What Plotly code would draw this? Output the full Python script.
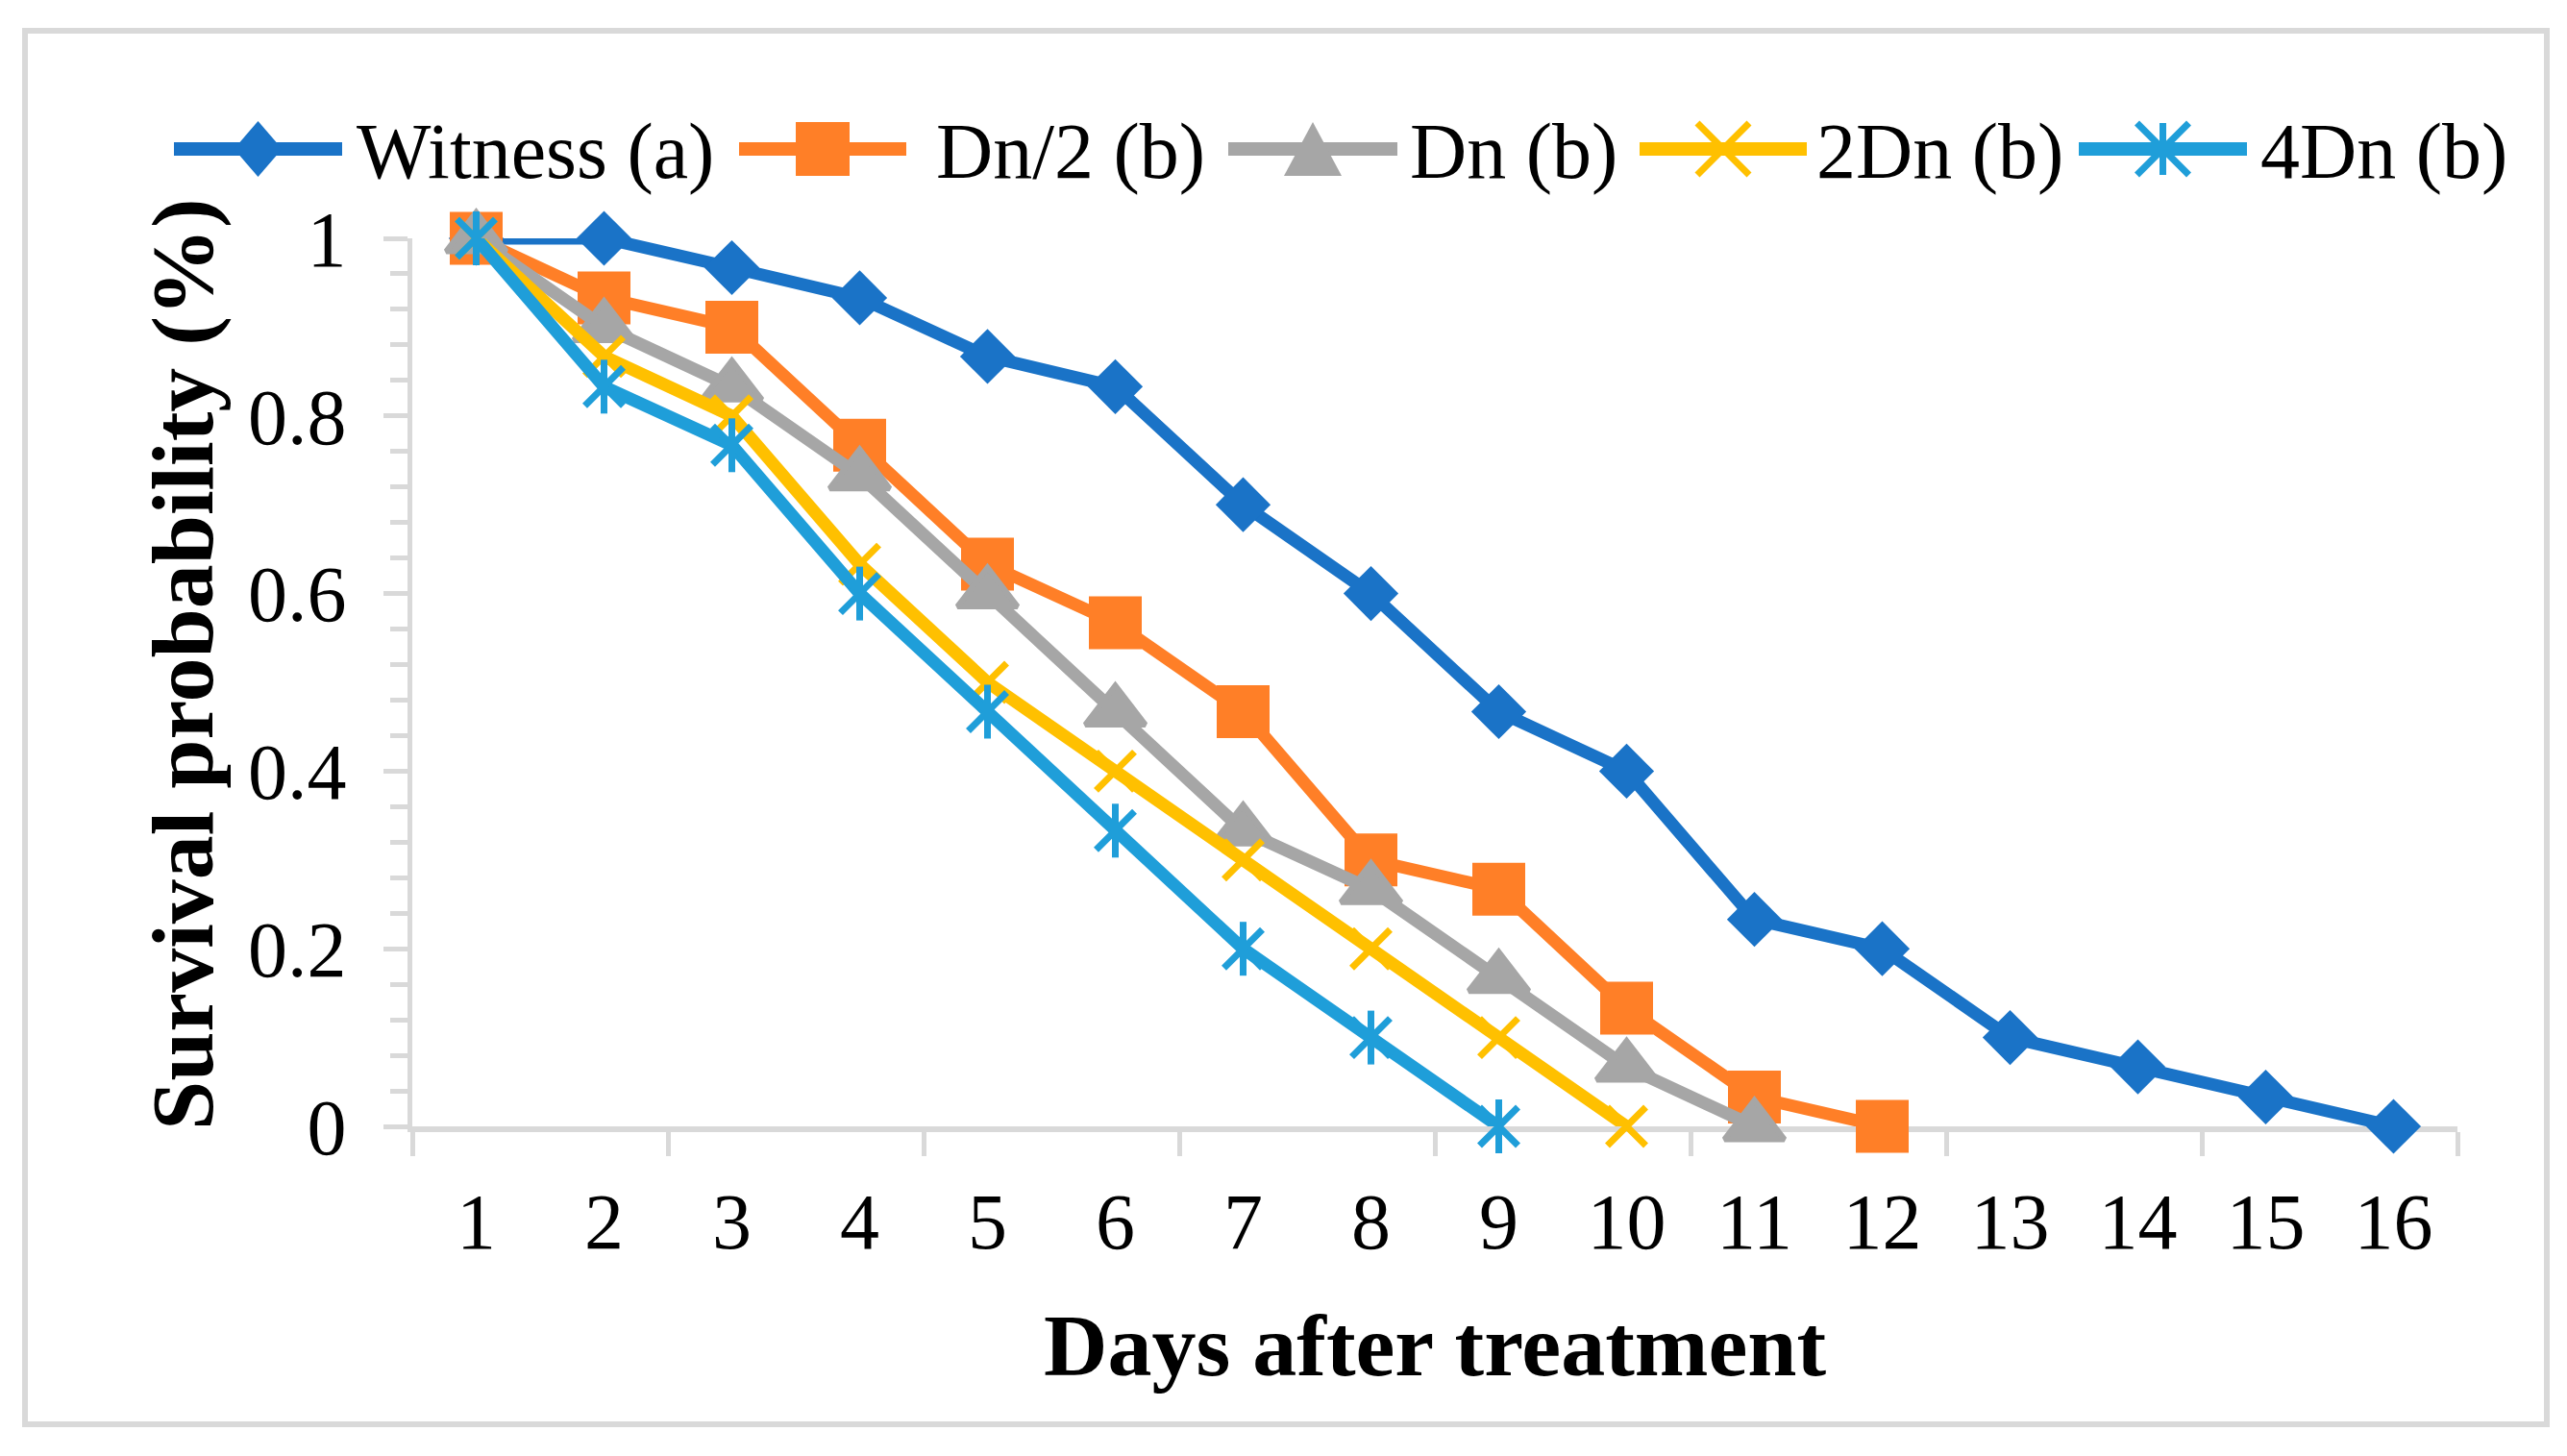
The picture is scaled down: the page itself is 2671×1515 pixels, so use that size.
import plotly.graph_objects as go

W, H = 2671, 1515

# ---- data ----
days = list(range(1, 17))
day_labels = [str(d) for d in days]
series_names = ["Witness (a)", "Dn/2 (b)", "Dn (b)", "2Dn (b)", "4Dn (b)"]
witness = [1, 1, 0.967, 0.933, 0.867, 0.833, 0.70, 0.60, 0.467, 0.40, 0.233, 0.20, 0.10, 0.067, 0.033, 0]
dn_half = [1, 0.933, 0.90, 0.767, 0.633, 0.567, 0.467, 0.30, 0.267, 0.133, 0.033, 0]
dn_one = [1, 0.90, 0.833, 0.733, 0.60, 0.467, 0.333, 0.267, 0.167, 0.067, 0]
dn_two = [1, 0.867, 0.80, 0.633, 0.50, 0.40, 0.30, 0.20, 0.10, 0]
dn_four = [1, 0.833, 0.767, 0.60, 0.467, 0.333, 0.20, 0.10, 0]
y_tick_vals = [0, 0.2, 0.4, 0.6, 0.8, 1]
y_tick_text = ["0", "0.2", "0.4", "0.6", "0.8", "1"]
x_title = "Days after treatment"
y_title = "Survival probability (%)"

series_values = [witness, dn_half, dn_one, dn_two, dn_four]

# ---- styles ----
colors = ["#1A73C7", "#FF7F27", "#A6A6A6", "#FFC000", "#1F9ED9"]
marker_styles = [
    [dict(symbol="diamond", size=44, line=dict(width=0))],
    [dict(symbol="square", size=55, line=dict(width=0))],
    [dict(symbol="triangle-up", size=54, line=dict(width=6))],
    [dict(symbol="x-thin-open", size=40, line=dict(width=7))],
    [dict(symbol="x-thin-open", size=40, line=dict(width=7)),
     dict(symbol="line-ns-open", size=40, line=dict(width=7))],
]
legend_symbols = ["diamond", "square", "triangle", "x", "asterisk"]
LINE_W = 13
FONT = "Liberation Serif"
GRAY = "#D9D9D9"

OFF = 8  # page (body) margin: page pixel = figure pixel + OFF

# plot area in page pixels (as measured on the reference)
PX0, PX1 = 429, 2557
PY_TOP, PY_BOT = 248, 1172
ML, MR, MT, MB = PX0 - OFF, W - (PX1 - OFF), PY_TOP - OFF, H - (PY_BOT - OFF)
PW, PH = PX1 - PX0, PY_BOT - PY_TOP

def fx(px):   # page pixel -> paper x
    return (px - PX0) / PW

def fy(py):   # page pixel (from top) -> paper y
    return (PY_BOT - py) / PH

fig = go.Figure()

for name, vals, col, mks in zip(series_names, series_values, colors, marker_styles):
    xs = days[:len(vals)]
    fig.add_trace(go.Scatter(x=xs, y=vals, mode="lines", line=dict(color=col, width=LINE_W),
                             cliponaxis=True, showlegend=False, hoverinfo="skip"))
    for mk in mks:
        m = dict(mk)
        m["color"] = col
        m["line"] = dict(m["line"], color=col)
        fig.add_trace(go.Scatter(x=xs, y=vals, mode="markers", marker=m,
                                 cliponaxis=False, showlegend=False, name=name))

# ---- custom legend (long Excel-style keys) drawn as shapes ----
legend_y = 155
legend_keys = [(181, 356, 369), (769, 943, 972), (1278, 1454, 1465), (1706, 1880, 1888), (2163, 2338, 2350)]
annotations = []
shapes = [dict(type="rect", xref="paper", yref="paper",
               x0=fx(26), x1=fx(2650), y0=fy(1482), y1=fy(32),
               line=dict(color=GRAY, width=6), fillcolor="rgba(0,0,0,0)", layer="below")]


def path_from(points, close=True):
    s = "M " + " L ".join(f"{fx(px):.5f},{fy(py):.5f}" for px, py in points)
    return s + (" Z" if close else "")


for name, col, sym, (lx0, lx1, tx) in zip(series_names, colors, legend_symbols, legend_keys):
    shapes.append(dict(type="line", xref="paper", yref="paper",
                       x0=fx(lx0), x1=fx(lx1), y0=fy(legend_y), y1=fy(legend_y),
                       line=dict(color=col, width=LINE_W + 1)))
    cx, cy = (lx0 + lx1) / 2, legend_y
    if sym == "diamond":
        shapes.append(dict(type="path", xref="paper", yref="paper",
                           path=path_from([(cx - 25, cy), (cx, cy - 29), (cx + 25, cy), (cx, cy + 29)]),
                           fillcolor=col, line=dict(width=0)))
    elif sym == "square":
        shapes.append(dict(type="rect", xref="paper", yref="paper",
                           x0=fx(cx - 28), x1=fx(cx + 28), y0=fy(cy + 28), y1=fy(cy - 28),
                           fillcolor=col, line=dict(width=0)))
    elif sym == "triangle":
        shapes.append(dict(type="path", xref="paper", yref="paper",
                           path=path_from([(cx - 30, cy + 28), (cx, cy - 28), (cx + 30, cy + 28)]),
                           fillcolor=col, line=dict(width=0)))
    else:
        for (ax, ay, bx, by) in [(-27, -27, 27, 27), (-27, 27, 27, -27)] + ([(0, -27, 0, 27)] if sym == "asterisk" else []):
            shapes.append(dict(type="line", xref="paper", yref="paper",
                               x0=fx(cx + ax), x1=fx(cx + bx), y0=fy(cy + ay), y1=fy(cy + by),
                               line=dict(color=col, width=7)))
    annotations.append(dict(x=fx(tx), y=fy(157), xref="paper", yref="paper", text=name,
                            showarrow=False, xanchor="left", yanchor="middle",
                            font=dict(family=FONT, size=82, color="black")))

annotations.append(dict(x=fx((PX0 + PX1) / 2), y=fy(1400), xref="paper", yref="paper",
                        text="<b>" + x_title + "</b>", showarrow=False,
                        xanchor="center", yanchor="middle",
                        font=dict(family=FONT, size=92, color="black")))
annotations.append(dict(x=fx(190), y=fy(691), xref="paper", yref="paper",
                        text="<b>" + y_title + "</b>", showarrow=False, textangle=-90,
                        xanchor="center", yanchor="middle",
                        font=dict(family=FONT, size=92, color="black")))

fig.update_layout(
    template="none",
    width=W, height=H, autosize=False,
    margin=dict(l=ML, r=MR, t=MT, b=MB, pad=0, autoexpand=False),
    paper_bgcolor="white",
    plot_bgcolor="rgba(0,0,0,0)",
    showlegend=False,
    annotations=annotations,
    shapes=shapes,
    xaxis=dict(
        range=[0.5, 16.5], automargin=False,
        tickmode="array", tickvals=days, ticktext=day_labels,
        ticks="", showgrid=False, zeroline=False,
        showline=True, linecolor=GRAY, linewidth=6, layer="below traces",
        tickfont=dict(family=FONT, size=82, color="black"),
        ticklabelstandoff=23,
        minor=dict(tickmode="array", tickvals=[d - 0.5 for d in days if d % 2 == 1] + [16.5],
                   ticks="outside", ticklen=25, tickwidth=5, tickcolor=GRAY, showgrid=False),
        anchor="y", fixedrange=True,
    ),
    yaxis=dict(
        range=[0, 1], automargin=False,
        tickmode="array", tickvals=y_tick_vals, ticktext=y_tick_text,
        ticks="outside", ticklen=25, tickwidth=5, tickcolor=GRAY,
        showgrid=False, zeroline=False,
        showline=True, linecolor=GRAY, linewidth=5, layer="below traces",
        tickfont=dict(family=FONT, size=82, color="black"),
        ticklabelstandoff=22,
        minor=dict(dtick=0.04, tick0=0, ticks="outside", ticklen=18, tickwidth=5,
                   tickcolor=GRAY, showgrid=False),
        anchor="x", fixedrange=True,
    ),
)

fig.write_html("out.html")
